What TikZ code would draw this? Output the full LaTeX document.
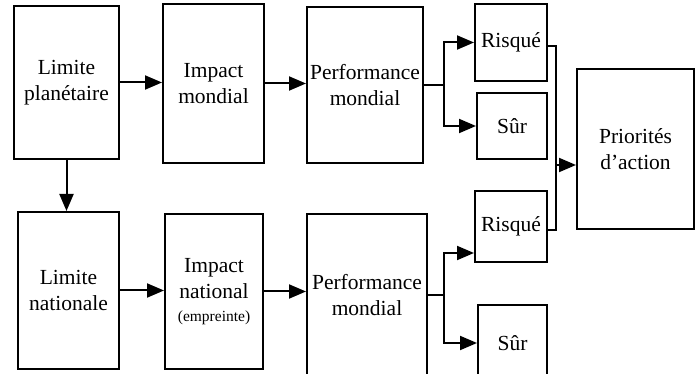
\documentclass[tikz,border=0pt]{standalone}
\usepackage{fontspec}
\setmainfont{Liberation Serif}
\usetikzlibrary{arrows.meta}

\begin{document}
\begin{tikzpicture}[x=1pt,y=-1pt,
    box/.style={draw,line width=2pt,align=center,inner sep=0pt,
      font=\fontsize{21.5}{26}\selectfont},
    arr/.style={line width=2pt,-{Triangle[length=17pt,width=14pt]}},
    link/.style={line width=2pt}]
      \useasboundingbox (0,0) rectangle (697,374);
      \clip (0,0) rectangle (697,374);
      % upper row
      \node[box,minimum width=105pt,minimum height=153pt] (lp) at ( 66.5, 82.5) {Limite\\planétaire};
      \node[box,minimum width=101pt,minimum height=159pt] (im) at (213.5, 83.5) {Impact\\mondial};
      \node[box,minimum width=116pt,minimum height=156pt] (pm) at (365.0, 85.0) {Performance\\mondial};
      \node[box,minimum width= 72pt,minimum height= 77pt] (r1) at (511.0, 42.5) {Risqué};
      \node[box,minimum width= 70pt,minimum height= 66pt] (s1) at (512.0,126.0) {Sûr};
      \node[box,minimum width=117pt,minimum height=160pt] (pa) at (635.5,149.0) {Priorités\\d’action};
      % lower row
      \node[box,minimum width=101pt,minimum height=157pt] (ln) at ( 68.5,290.5) {Limite\\nationale};
      \node[box,minimum width= 98pt,minimum height=155pt] (in) at (214.0,291.5)
        {Impact\\national\\[-3pt]{\fontsize{15.5}{18}\selectfont (empreinte)}};
      \node[box,minimum width=120pt,minimum height=162pt] (pn) at (367.0,295.0) {Performance\\mondial};
      \node[box,minimum width= 72pt,minimum height= 71pt] (r2) at (511.0,226.5) {Risqué};
      \node[box,minimum width= 69pt,minimum height= 76pt] (s2) at (512.5,343.0) {Sûr};
      % connectors
      \draw[arr] (lp.east) -- (lp.east -| im.west);
      \draw[arr] (im.east) -- (im.east -| pm.west);
      \draw[arr] (lp.south) -- (lp.south |- ln.north);
      \draw[arr] (ln.east) -- (ln.east -| in.west);
      \draw[arr] (in.east) -- (in.east -| pn.west);
      \draw[link] (pm.east) -- ++(20,0) coordinate (b1);
      \draw[arr] (b1) |- (r1.west);
      \draw[arr] (b1) |- (s1.west);
      \draw[link] (pn.east) -- ++(16,0) coordinate (b2);
      \draw[arr] (b2) |- ([yshift=-26.5pt]r2.west);
      \draw[arr] (b2) |- (s2.west);
      \draw[link] ([yshift=-4pt]r1.east) -- ++(8,0) coordinate (jt) |- ([yshift=-4pt]r2.east);
      \coordinate (jn) at (555,165);
      \draw[arr] (jn) -- (jn -| pa.west);
     \end{tikzpicture}
\end{document}
